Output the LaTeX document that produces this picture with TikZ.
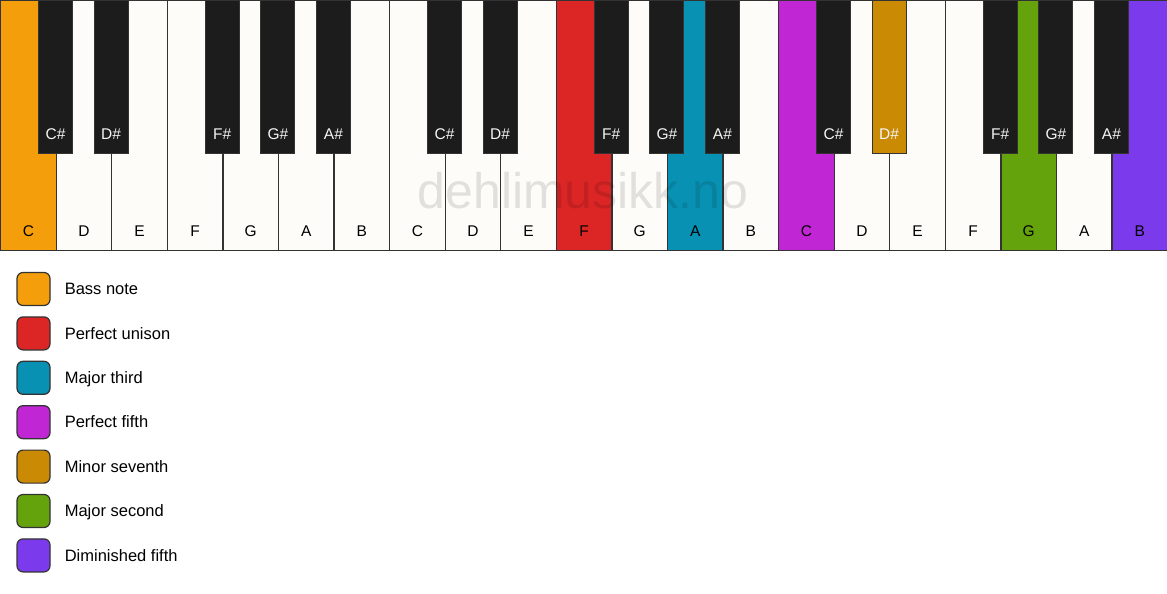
\documentclass[tikz,border=0pt]{standalone}
\usepackage{fontspec}
\setmainfont{Liberation Sans}
\usetikzlibrary{positioning}
\definecolor{keywhite}{HTML}{FDFCF9}
\definecolor{keyblack}{HTML}{1C1C1C}
\definecolor{keyline}{HTML}{333333}
\definecolor{bass}{HTML}{F59E0B}
\definecolor{unison}{HTML}{DC2626}
\definecolor{third}{HTML}{0891B2}
\definecolor{fifth}{HTML}{C026D3}
\definecolor{seventh}{HTML}{CA8A04}
\definecolor{second}{HTML}{65A30D}
\definecolor{dimfifth}{HTML}{7C3AED}

\begin{document}
\begin{tikzpicture}[x=1pt, y=-1pt,
  whitekey/.style={draw=keyline, line width=1.3pt, anchor=north west, inner sep=0pt,
    minimum width=55.57pt, minimum height=250pt},
  blackkey/.style={draw=keyline, line width=1pt, fill=keyblack, anchor=north, inner sep=0pt,
    minimum width=34pt, minimum height=153pt},
  keylbl/.style={font=\fontsize{15.5}{18}\selectfont, inner sep=0pt},
  swatch/.style={draw=keyline, line width=1.2pt, rounded corners=6pt, minimum size=33pt, inner sep=0pt},
  legtext/.style={font=\fontsize{16.5}{20}\selectfont, inner sep=0pt, anchor=west,
    text height=1.6ex, text depth=.4ex, yshift=-2.5pt}]
\useasboundingbox (0,0) rectangle (1167,594);
% white keys
\foreach \i/\n/\c in {0/C/bass, 1/D/keywhite, 2/E/keywhite, 3/F/keywhite, 4/G/keywhite,
    5/A/keywhite, 6/B/keywhite, 7/C/keywhite, 8/D/keywhite, 9/E/keywhite, 10/F/unison,
    11/G/keywhite, 12/A/third, 13/B/keywhite, 14/C/fifth, 15/D/keywhite, 16/E/keywhite,
    17/F/keywhite, 18/G/second, 19/A/keywhite, 20/B/dimfifth} {
  \node[whitekey, fill=\c] (wk\i) at (\i*55.57, 0) {};
  \node[keylbl] (wl\i) at ([yshift=20pt]wk\i.south) {\n};
}
% watermark
\node[font=\fontsize{50}{60}\selectfont, text=black, text opacity=0.11, anchor=base, inner sep=0pt]
  (wm) at (583, 208) {dehlimusikk.no};
% black keys
\foreach \i/\n/\c in {1/C\#/keyblack, 2/D\#/keyblack, 4/F\#/keyblack, 5/G\#/keyblack,
    6/A\#/keyblack, 8/C\#/keyblack, 9/D\#/keyblack, 11/F\#/keyblack, 12/G\#/keyblack,
    13/A\#/keyblack, 15/C\#/keyblack, 16/D\#/seventh, 18/F\#/keyblack, 19/G\#/keyblack,
    20/A\#/keyblack} {
  \node[blackkey, fill=\c] (bk\i) at (\i*55.57, 0) {};
  \node[keylbl, text=white!96!black] (bl\i) at ([yshift=20pt]bk\i.south) {\n};
}
% legend
\foreach \k/\c/\t in {0/bass/Bass note, 1/unison/Perfect unison, 2/third/Major third,
    3/fifth/Perfect fifth, 4/seventh/Minor seventh, 5/second/Major second,
    6/dimfifth/Diminished fifth} {
  \node[swatch, fill=\c] (sw\k) at (33.5, 289+\k*44.4) {};
  \node[legtext, right=14pt of sw\k] (lt\k) {\t};
}
\end{tikzpicture}
\end{document}
